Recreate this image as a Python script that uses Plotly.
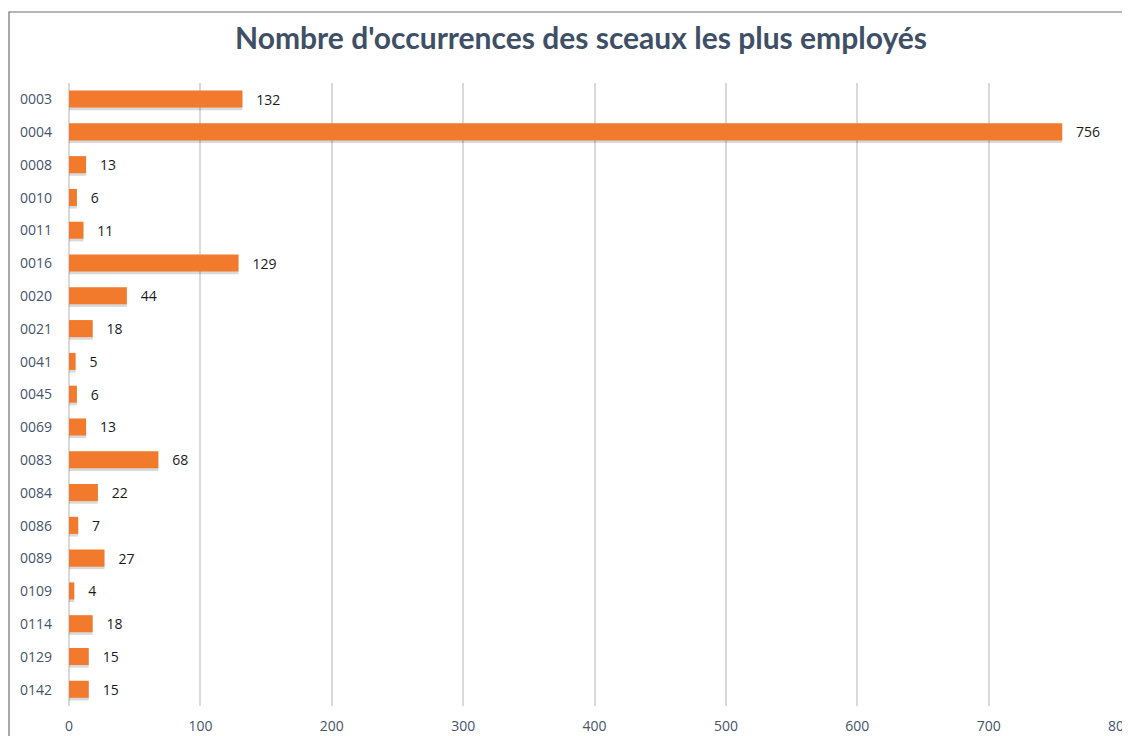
import plotly.graph_objects as go

categories = ["0003", "0004", "0008", "0010", "0011", "0016", "0020", "0021", "0041", "0045",
              "0069", "0083", "0084", "0086", "0089", "0109", "0114", "0129", "0142"]
values = [132, 756, 13, 6, 11, 129, 44, 18, 5, 6, 13, 68, 22, 7, 27, 4, 18, 15, 15]
x_ticks = [0, 100, 200, 300, 400, 500, 600, 700, 800]
title = "Nombre d'occurrences des sceaux les plus employés"

# page body has an 8px margin, so the figure is drawn 8px in from the top-left
OFF = 8
W, H = 1130 - OFF, 736 - OFF
ml, mr, mt, mb = 69 - OFF, 10, 83 - OFF, 30
pw, ph = W - ml - mr, H - mt - mb

fig = go.Figure()
# soft shadow
fig.add_trace(go.Bar(
    y=categories, x=values, orientation="h",
    marker=dict(color="rgba(0,0,0,0.15)", line=dict(width=0)),
    width=0.56, offset=-0.23, hoverinfo="skip", showlegend=False,
))
fig.add_trace(go.Bar(
    y=categories, x=values, orientation="h",
    marker=dict(color="#F27A2C", line=dict(width=0)),
    width=0.52, offset=-0.27,
    text=[f"{v}" for v in values], textposition="outside",
    texttemplate="   %{text}", constraintext="none",
    textfont=dict(family="Open Sans", size=14, color="#1a1a1a"),
    cliponaxis=False, showlegend=False,
))

fig.update_layout(
    width=W, height=H,
    margin=dict(l=ml, r=mr, t=mt, b=mb),
    paper_bgcolor="white", plot_bgcolor="white",
    barmode="overlay",
    title=dict(text=f"<b>{title}</b>", x=(581 - OFF) / W, xanchor="center", y=1 - (38 - OFF) / H,
               yanchor="middle", font=dict(family="Lato", size=30, color="#3E4F66")),
    xaxis=dict(range=[0, 800], tickvals=x_ticks, showgrid=True, gridcolor="#D9D9D9", gridwidth=2,
               zeroline=True, zerolinecolor="#D9D9D9", zerolinewidth=2, showline=False,
               tickfont=dict(family="Open Sans", size=14, color="#44546A"), ticks="", ticklen=0,
               ticklabeloverflow="allow", automargin=False, ticklabelstandoff=10),
    yaxis=dict(type="category", autorange="reversed", showgrid=False, zeroline=False, showline=False,
               tickfont=dict(family="Open Sans", size=14, color="#44546A"), ticks="",
               ticklabelstandoff=16, automargin=False),
)

# chart frame (left and top edges visible)
x0 = (9 - 69) / pw
y1 = (706 - 12) / ph
fig.add_shape(type="rect", xref="paper", yref="paper", x0=x0, x1=1.2, y0=-0.2, y1=y1,
              line=dict(color="#6F6F6F", width=1.2), fillcolor="rgba(0,0,0,0)", layer="below")

fig.write_html("out.html")
